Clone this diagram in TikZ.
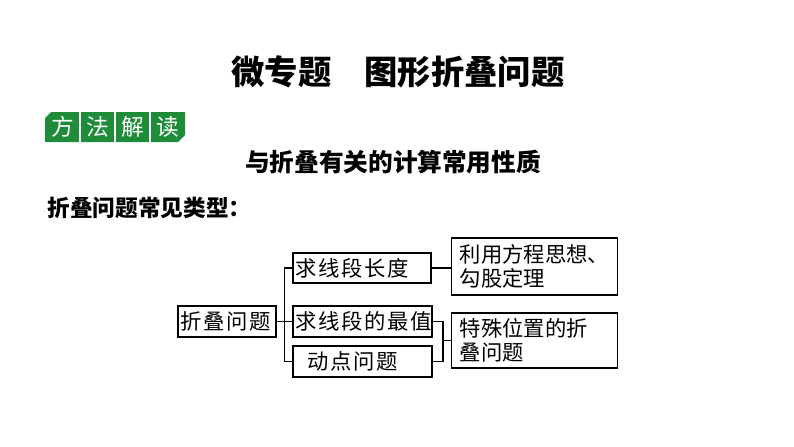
\documentclass[tikz,border=0pt]{standalone}
\usepackage{fontspec}
\setmainfont{Noto Sans CJK SC}
\usetikzlibrary{calc}
\definecolor{lvse}{RGB}{31,140,58}
\tikzset{
  kuang/.style={draw,line width=1.2pt,inner xsep=2pt,inner ysep=0pt,align=left,
    font=\fontsize{16}{18}\selectfont},
  kuanga/.style={kuang,font=\fontsize{16}{18}\selectfont\addfontfeature{LetterSpace=8}},
  biaoqian/.style={text=white,inner sep=0pt,font=\fontsize{17}{20}\selectfont},
}
\begin{document}
\begin{tikzpicture}[x=0.75pt,y=-0.75pt,line width=0.8pt]
  \useasboundingbox (0,0) rectangle (794,447);

  % 标题
  \node[font=\bfseries\fontsize{25}{30}\selectfont] (biaoti) at (398,72) {微专题　图形折叠问题};

  % 方法解读
  \fill[lvse] (45,118) -- (51,112) -- (185,112) -- (185,135) -- (178,142) -- (45,142) -- cycle;
  \draw[white,line width=1.5pt] (80,112) -- (80,142);
  \draw[white,line width=1.5pt] (115,112) -- (115,142);
  \draw[white,line width=1.5pt] (150,112) -- (150,142);
  \node[biaoqian] (fang) at (62.5,127) {方};
  \node[biaoqian] (fa) at (97.5,127) {法};
  \node[biaoqian] (jie) at (132.5,127) {解};
  \node[biaoqian] (du) at (167.5,127) {读};

  \node[font=\bfseries\fontsize{18.5}{22}\selectfont] (xingzhi) at (393,162) {与折叠有关的计算常用性质};
  \node[font=\bfseries\fontsize{17}{20}\selectfont,anchor=west,inner sep=0pt] (leixing) at (47,208) {折叠问题常见类型：};

  % 框图
  \node[kuanga,text width=69.5pt,minimum height=23.25pt] (zd) at (227,321.5) {折叠问题};
  \node[kuanga,text width=99.5pt,minimum height=22.5pt] (cd) at (362,268) {求线段长度};
  \node[kuanga,text width=100.25pt,minimum height=23.25pt] (zz) at (362.5,321.5) {求线段的最值};
  \node[kuanga,text width=100.25pt,minimum height=23.25pt] (dd) at (362.5,361.5) {\hspace{9pt}动点问题};
  \node[kuang,inner xsep=6pt,text width=112.25pt,minimum height=42.75pt] (ly) at (534.5,266.5) {利用方程思想、\\勾股定理};
  \node[kuang,inner xsep=6pt,text width=112.25pt,minimum height=41.25pt] (ts) at (534.5,340.5) {特殊位置的折\\叠问题};

  % 连线
  \coordinate (fen) at ($(zd.east)!0.5!(zz.west)$);
  \coordinate (he) at (443,340.5);
  \draw (zd.east) -- (zz.west);
  \draw (cd.west) -| (fen) |- (dd.west);
  \draw (cd.east) -- (cd.east -| ly.west);
  \draw (zz.east) -| (he) |- (dd.east);
  \draw (he) -- (ts.west);
\end{tikzpicture}
\end{document}
